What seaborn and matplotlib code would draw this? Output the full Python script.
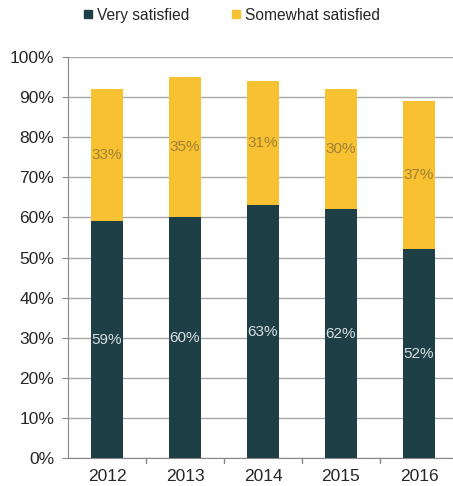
import matplotlib
matplotlib.use("Agg")
import matplotlib.pyplot as plt
from matplotlib.lines import Line2D
import seaborn as sns
import pandas as pd

years = ["2012", "2013", "2014", "2015", "2016"]
very_satisfied = [59, 60, 63, 62, 52]
somewhat_satisfied = [33, 35, 31, 30, 37]

dark = "#1f3f47"
gold = "#f8c132"

sns.set_style("white")
plt.rcParams["font.family"] = ["Liberation Sans", "DejaVu Sans"]

df = pd.DataFrame({"year": years, "very": very_satisfied, "somewhat": somewhat_satisfied})

fig = plt.figure(figsize=(4.53, 4.86), dpi=100)
ax = fig.add_axes([68 / 453, 28 / 486, 385 / 453, 401 / 486])

sns.barplot(data=df, x="year", y="very", color=dark, width=0.41, ax=ax,
            saturation=1, linewidth=0, zorder=3)
sns.barplot(data=df, x="year", y="somewhat", color=gold, width=0.41, ax=ax,
            saturation=1, linewidth=0, bottom=df["very"], zorder=3)

# segment labels
for i, (v, s) in enumerate(zip(very_satisfied, somewhat_satisfied)):
    ax.text(i, v / 2, f"{v}%", ha="center", va="center", color="#d8e0e2", fontsize=11, zorder=4)
    ax.text(i, v + s / 2, f"{s}%", ha="center", va="center", color="#a08235", fontsize=11, zorder=4)

ax.set_ylim(0, 100)
ax.set_xlim(-0.5, -0.5 + 385 / 78)
ax.set_yticks(range(0, 101, 10))
ax.set_yticklabels([f"{t}%" for t in range(0, 101, 10)], fontsize=12.5)
ax.tick_params(axis="x", labelsize=12.5, length=0, pad=8)
ax.tick_params(axis="y", length=4, color="#888888", left=True, pad=6)
ax.yaxis.grid(True, color="#a8a8a8", linewidth=1, zorder=0)
ax.set_xlabel("")
ax.set_ylabel("")

# category separator ticks on the x axis
for b in [0.5, 1.5, 2.5, 3.5]:
    ax.plot([b, b], [0, -1.2], color="#888888", linewidth=1, clip_on=False)

for side in ["top", "right"]:
    ax.spines[side].set_visible(False)
ax.spines["left"].set_color("#888888")
ax.spines["bottom"].set_color("#888888")

handles = [Line2D([], [], marker="s", linestyle="", color=dark, markersize=6),
           Line2D([], [], marker="s", linestyle="", color=gold, markersize=6)]
fig.legend(handles, ["Very satisfied", "Somewhat satisfied"], loc="upper center",
           bbox_to_anchor=(0.51, 1.013), ncol=2, frameon=False, fontsize=11.2,
           handletextpad=0.2, columnspacing=2.6, handlelength=0.8)

fig.savefig("out.png", dpi=100)
